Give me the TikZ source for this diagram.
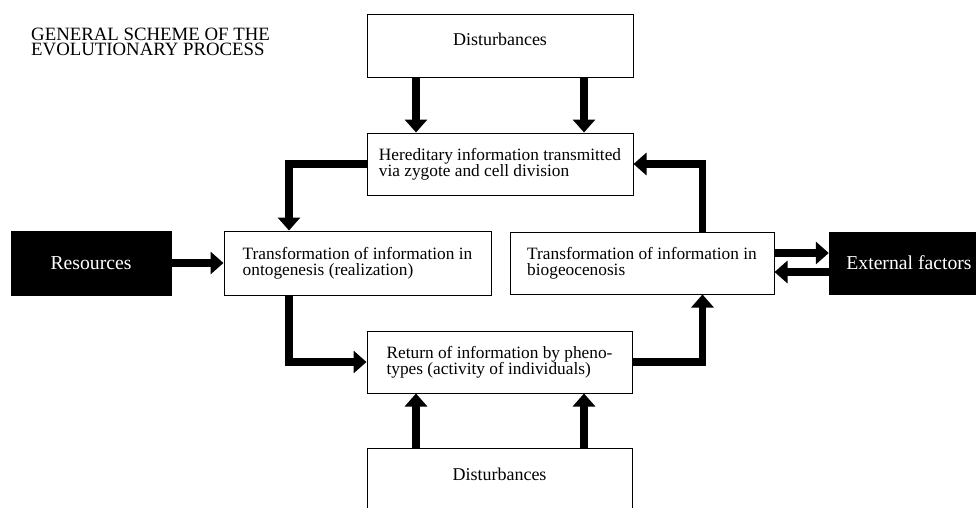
\documentclass[tikz,border=0pt]{standalone}
\usepackage{fontspec}
\setmainfont{Liberation Serif}
\usetikzlibrary{arrows.meta}
\tikzset{
  box/.style={draw=black, line width=1pt, fill=white, align=left, inner sep=0pt,
    font=\fontsize{17.3}{16}\selectfont},
  dbox/.style={draw=black, line width=1pt, fill=white, inner sep=0pt,
    font=\fontsize{18}{18}\selectfont, text depth=11.5pt},
  blk/.style={draw=black, fill=black, text=white, inner sep=0pt,
    font=\fontsize{19.7}{20}\selectfont},
  arr/.style={line width=7.5pt, line join=miter, line cap=butt,
    -{Triangle[width=22pt,length=13pt]}},
}
\begin{document}
\begin{tikzpicture}[x=1pt,y=-1pt]
\useasboundingbox (0,0) rectangle (976,507);
\clip (0,0) rectangle (976,507);
\fill[white] (0,0) rectangle (976,507);

\node[anchor=north west, inner sep=0pt, align=left,
  font=\fontsize{18.8}{15}\selectfont] (title) at (31,27.5)
  {GENERAL SCHEME OF THE\\EVOLUTIONARY PROCESS};

\node[dbox, minimum width=266pt, minimum height=63pt] (dist1) at (500,45.5) {Disturbances};
\node[dbox, minimum width=265pt, minimum height=63pt] (dist2) at (499.5,479.5) {Disturbances};

\node[box, minimum width=266pt, minimum height=62pt] (hered) at (500,164)
  {Hereditary information transmitted\\via zygote and cell division};
\node[box, minimum width=267pt, minimum height=64pt] (onto) at (357.5,263)
  {Transformation of information in\\ontogenesis (realization)};
\node[box, minimum width=264pt, minimum height=62pt] (bio) at (642,263)
  {Transformation of information in\\biogeocenosis};
\node[box, minimum width=265pt, minimum height=62pt] (ret) at (499.5,362)
  {Return of information by pheno-\\types (activity of individuals)};

\node[blk, minimum width=160pt, minimum height=64pt] (res) at (91,263) {Resources};
\node[blk, minimum width=160pt, minimum height=62pt] (ext) at (909,263) {External factors};

\coordinate (cL) at (289,0);
\coordinate (cR) at (702.5,0);
\coordinate (a1) at (416,0);
\coordinate (a2) at (584,0);

\draw[arr] (dist1.south -| a1) -- (hered.north -| a1);
\draw[arr] (dist1.south -| a2) -- (hered.north -| a2);
\draw[arr] (hered.west) -| (cL |- onto.north);
\draw[arr] (res.east) -- (onto.west);
\draw[arr] (onto.south -| cL) |- (ret.west);
\draw[arr] (ret.east) -| (cR |- bio.south);
\draw[arr] (cR |- bio.north) |- (hered.east);
\draw[arr] ([yshift=10pt]bio.east) -- ([yshift=10pt]ext.west);
\draw[arr] ([yshift=-9pt]ext.west) -- ([yshift=-9pt]bio.east);
\draw[arr] (dist2.north -| a1) -- (ret.south -| a1);
\draw[arr] (dist2.north -| a2) -- (ret.south -| a2);
\end{tikzpicture}
\end{document}
